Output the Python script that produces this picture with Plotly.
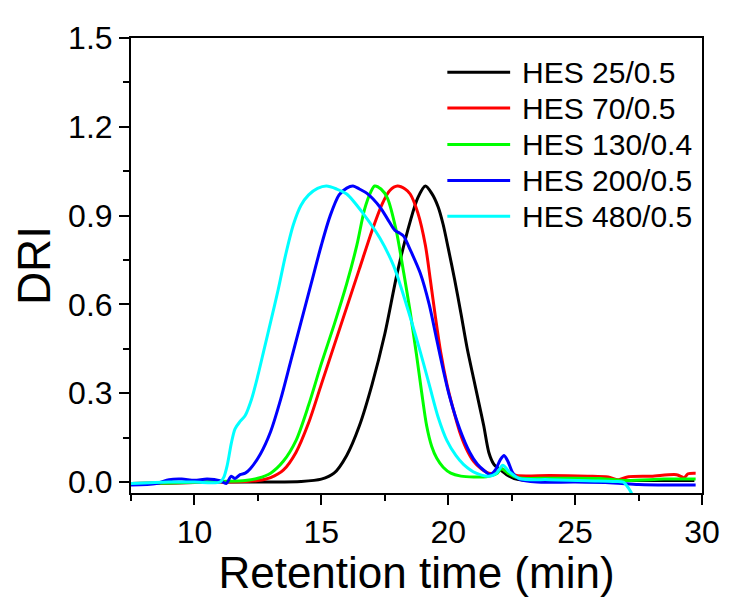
import plotly.graph_objects as go

# ---- data ----
names = ["HES 25/0.5", "HES 70/0.5", "HES 130/0.4", "HES 200/0.5", "HES 480/0.5"]
colors = ["#000000", "#FF0000", "#00FF00", "#0000FF", "#00FFFF"]

t_25 = [7.5, 9, 11, 13, 14.2, 15.0, 15.5, 16.0, 16.5, 17.0, 17.5, 18.0, 18.5, 18.8, 19.1,
        19.35, 19.6, 19.8, 20.0, 20.25, 20.5, 20.75, 21.0, 21.2, 21.4, 21.6, 21.8, 22.0, 22.3,
        22.6, 23.0, 25, 27, 29.7]
v_25 = [-0.005, -0.003, 0.0, 0.0, 0.002, 0.01, 0.03, 0.09, 0.19, 0.33, 0.5, 0.71, 0.88, 0.96, 1.0,
        0.975, 0.93, 0.87, 0.79, 0.685, 0.57, 0.45, 0.35, 0.27, 0.19, 0.1, 0.06, 0.045, 0.025,
        0.012, 0.006, 0.005, 0.005, 0.005]

t_70 = [7.5, 9, 11, 12.0, 12.5, 13.0, 13.5, 14.0, 14.5, 15.0, 15.5, 16.0, 16.5, 17.0, 17.4,
        17.7, 18.0, 18.3, 18.5, 18.8, 19.1, 19.3, 19.5, 19.7, 19.95, 20.2, 20.45, 20.7, 21.0,
        21.3, 21.6, 21.85, 22.1, 22.35, 22.7, 24, 25.5, 26.3, 26.7, 27.1, 28, 29, 29.3, 29.45, 29.75]
v_70 = [-0.005, -0.003, 0.0, 0.002, 0.005, 0.015, 0.04, 0.1, 0.2, 0.33, 0.46, 0.59, 0.72, 0.85, 0.94,
        0.985, 1.0, 0.99, 0.973, 0.91, 0.8, 0.68, 0.555, 0.44, 0.33, 0.245, 0.17, 0.115, 0.07,
        0.045, 0.03, 0.03, 0.045, 0.032, 0.022, 0.022, 0.02, 0.017, 0.008, 0.018, 0.02, 0.025, 0.015, 0.028, 0.03]

t_130 = [7.5, 9, 11, 12.0, 12.5, 13.0, 13.5, 14.0, 14.5, 15.0, 15.5, 16.0, 16.4, 16.7, 16.95,
         17.1, 17.35, 17.6, 17.95, 18.25, 18.5, 18.75, 18.95, 19.15, 19.35, 19.55, 19.8, 20.1,
         20.5, 21.0, 21.5, 21.9, 22.1, 22.35, 22.7, 24, 26, 27, 28.5, 29.75]
v_130 = [-0.005, -0.003, 0.002, 0.005, 0.013, 0.03, 0.07, 0.14, 0.26, 0.4, 0.53, 0.67, 0.8, 0.92, 0.98,
         1.0, 0.99, 0.96, 0.85, 0.705, 0.575, 0.43, 0.305, 0.19, 0.12, 0.08, 0.05, 0.03,
         0.02, 0.017, 0.018, 0.028, 0.045, 0.03, 0.015, 0.013, 0.012, 0.005, 0.01, 0.01]

t_200 = [7.5, 8.5, 9.0, 9.5, 10.0, 10.5, 11.0, 11.25, 11.45, 11.6, 11.8, 12.0, 12.2, 12.6, 13.0,
         13.4, 13.8, 14.2, 14.6, 15.0, 15.35, 15.7, 16.0, 16.25, 16.5, 16.8, 17.3, 17.6, 17.9,
         18.1, 18.25, 18.5, 18.9, 19.25, 19.55, 19.8, 20.05, 20.45, 20.85, 21.15, 21.4, 21.65,
         21.85, 22.05, 22.2, 22.35, 22.55, 22.8, 23.5, 25, 26.5, 27.5, 29, 29.75]
v_200 = [-0.01, -0.005, 0.008, 0.01, 0.006, 0.01, 0.005, -0.005, 0.02, 0.012, 0.025, 0.03, 0.045, 0.095, 0.17,
         0.28, 0.41, 0.54, 0.67, 0.8, 0.9, 0.97, 0.993, 1.0, 0.99, 0.975, 0.93, 0.89, 0.85,
         0.84, 0.83, 0.785, 0.705, 0.6, 0.48, 0.38, 0.29, 0.18, 0.1, 0.06, 0.04, 0.025,
         0.04, 0.075, 0.09, 0.07, 0.03, 0.01, 0.0, 0.0, -0.003, -0.008, -0.01, -0.01]

t_480 = [7.5, 9, 10, 11.0, 11.15, 11.3, 11.45, 11.6, 11.8, 12.0, 12.25, 12.5, 12.75, 13.0, 13.3,
         13.6, 13.9, 14.2, 14.5, 14.85, 15.2, 15.6, 16.0, 16.65, 17.3, 17.85, 18.35, 18.85, 19.25,
         19.6, 19.95, 20.3, 20.6, 21.1, 21.6, 21.9, 22.15, 22.4, 22.8, 24, 25.5, 26.5, 26.9, 27.1,
         27.3, 27.5]
v_480 = [-0.005, 0.0, 0.0, 0.0, 0.015, 0.06, 0.13, 0.18, 0.205, 0.225, 0.28, 0.36, 0.45, 0.54, 0.65,
         0.77, 0.87, 0.935, 0.97, 0.992, 1.0, 0.99, 0.973, 0.907, 0.825, 0.73, 0.6, 0.455, 0.33,
         0.22, 0.14, 0.09, 0.06, 0.03, 0.02, 0.03, 0.057, 0.035, 0.012, 0.008, 0.004, 0.002, 0.0, -0.02,
         -0.05, -0.08]

series_t = [t_25, t_70, t_130, t_200, t_480]
series_v = [v_25, v_70, v_130, v_200, v_480]

x_ticks = [10, 15, 20, 25, 30]
y_ticks = [0.0, 0.3, 0.6, 0.9, 1.2, 1.5]
y_tick_text = ["0.0", "0.3", "0.6", "0.9", "1.2", "1.5"]

FONT = "Liberation Sans, Arial, sans-serif"
LW = 3

fig = go.Figure()
for name, col, tx, vy in zip(names, colors, series_t, series_v):
    fig.add_trace(go.Scatter(
        x=tx, y=vy, mode="lines", name=name, showlegend=False,
        line=dict(color=col, width=LW, shape="spline", smoothing=0.8),
    ))

# legend drawn as paper-referenced samples + text (matches the original's long line samples)
legend_rows_y = [0.925, 0.846, 0.766, 0.687, 0.608]
for name, col, ly in zip(names, colors, legend_rows_y):
    fig.add_shape(type="line", xref="paper", yref="paper",
                  x0=0.554, x1=0.664, y0=ly, y1=ly,
                  line=dict(color=col, width=LW))
    fig.add_annotation(xref="paper", yref="paper", x=0.681, y=ly,
                       xanchor="left", yanchor="middle", showarrow=False,
                       text=name, font=dict(family=FONT, size=30, color="black"))

axis_common = dict(
    showline=True, linecolor="black", linewidth=2, mirror=True,
    ticks="outside", ticklen=10, tickwidth=2, tickcolor="black",
    showgrid=False, zeroline=False,
    tickfont=dict(family=FONT, size=32, color="black"),
)

fig.update_xaxes(
    range=[7.5, 30], tickvals=x_ticks,
    minor=dict(dtick=2.5, tick0=7.5, ticks="outside", ticklen=6, tickwidth=2, tickcolor="black"),
    title=dict(text="Retention time (min)", font=dict(family=FONT, size=44, color="black"), standoff=3),
    **axis_common,
)
fig.update_yaxes(
    range=[-0.037, 1.5], tickvals=y_ticks, ticktext=y_tick_text,
    minor=dict(dtick=0.15, tick0=0, ticks="outside", ticklen=6, tickwidth=2, tickcolor="black"),
    title=dict(text="DRI", font=dict(family=FONT, size=46, color="black"), standoff=6),
    **axis_common,
)

# the page adds an 8px body margin, so the figure is sized 8px smaller on each axis
fig.update_layout(
    width=724, height=589,
    margin=dict(l=123, r=25, t=24, b=104),
    paper_bgcolor="white", plot_bgcolor="white",
    showlegend=False,
)

fig.write_html("out.html")
